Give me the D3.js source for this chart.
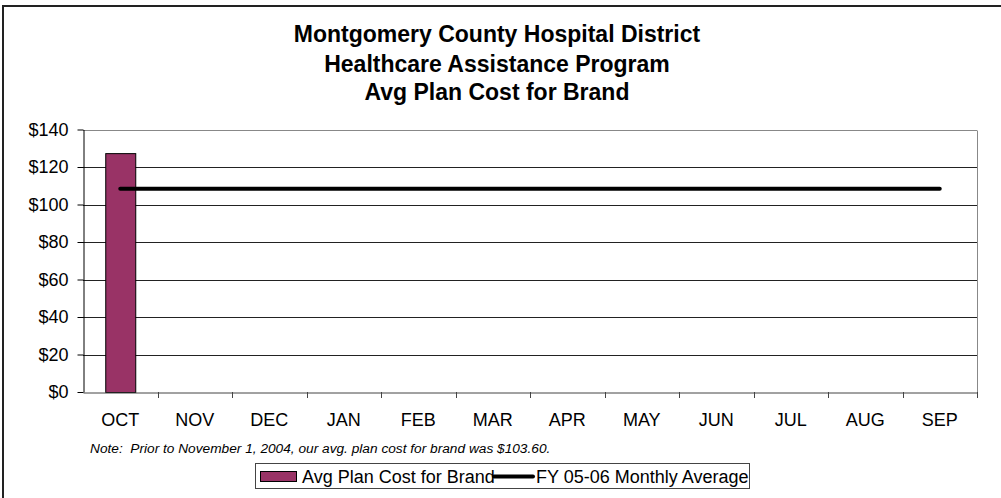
<!DOCTYPE html>
<html>
<head>
<meta charset="utf-8">
<script src="https://cdn.jsdelivr.net/npm/d3@7"></script>
<style>
  html, body { margin: 0; padding: 0; background: #fff; }
  svg { display: block; font-family: "Liberation Sans", Arial, sans-serif; }
</style>
</head>
<body>
<svg id="chart" width="1001" height="498"></svg>
<script>
const titleLines = ["Montgomery County Hospital District", "Healthcare Assistance Program", "Avg Plan Cost for Brand"];
const months = ["OCT","NOV","DEC","JAN","FEB","MAR","APR","MAY","JUN","JUL","AUG","SEP"];
const brandCost = [127.4, null, null, null, null, null, null, null, null, null, null, null];
const monthlyAvg = [108.35,108.35,108.35,108.35,108.35,108.35,108.35,108.35,108.35,108.35,108.35,108.35];
const yTicks = [0, 20, 40, 60, 80, 100, 120, 140];
const seriesNames = ["Avg Plan Cost for Brand", "FY 05-06 Monthly Average"];
const noteText = "Note:  Prior to November 1, 2004, our avg. plan cost for brand was $103.60.";

const svg = d3.select("#chart");
const plot = {left: 83, right: 977, top: 129.5, bottom: 392};
const FONT = "Liberation Sans, Arial, sans-serif";

// outer border (cropped chart area)
svg.append("rect").attr("x", 3).attr("y", 6).attr("width", 1020).attr("height", 520)
  .attr("fill", "none").attr("stroke", "#222").attr("stroke-width", 2);

// title
svg.append("g").selectAll("text").data(titleLines).join("text")
  .attr("x", 497).attr("y", (d, i) => [42, 72, 100][i])
  .attr("text-anchor", "middle").attr("font-weight", "bold").attr("font-size", 23)
  .attr("fill", "#000").text(d => d);

const x = d3.scaleBand().domain(months).range([plot.left, plot.right]).paddingInner(0).paddingOuter(0);
const y = d3.scaleLinear().domain([0, 140]).range([plot.bottom, plot.top]);

// gridlines
svg.append("g").selectAll("line").data(yTicks.filter(d => d > 0)).join("line")
  .attr("x1", plot.left).attr("x2", plot.right)
  .attr("y1", d => Math.round(y(d)) + 0.5).attr("y2", d => Math.round(y(d)) + 0.5)
  .attr("stroke", d => d === 140 ? "#888" : "#222").attr("stroke-width", 1);

// right border of plot area
svg.append("line").attr("x1", plot.right + 0.5).attr("x2", plot.right + 0.5)
  .attr("y1", Math.round(y(140)) + 0.5).attr("y2", plot.bottom).attr("stroke", "#888");

// bars
const bw = 30;
svg.append("g").selectAll("rect").data(months.map((m, i) => ({m, v: brandCost[i]})).filter(d => d.v != null))
  .join("rect")
  .attr("x", d => x(d.m) + x.bandwidth() / 2 - bw / 2 + 0.5)
  .attr("y", d => y(d.v) + 0.5)
  .attr("width", bw).attr("height", d => y(0) - y(d.v))
  .attr("fill", "#993366").attr("stroke", "#000").attr("stroke-width", 1);

// y axis
const yAxis = svg.append("g").attr("transform", `translate(${plot.left + 0.5},0)`)
  .call(d3.axisLeft(y).tickValues(yTicks).tickFormat(d => "$" + d).tickSize(6).tickSizeOuter(0));
yAxis.select(".domain").attr("stroke", "#000");
yAxis.selectAll(".tick line").attr("stroke", "#000");
yAxis.selectAll(".tick text").attr("font-size", 18).attr("font-family", FONT)
  .attr("fill", "#000").attr("x", -15);

// x axis
const xAxis = svg.append("g").attr("transform", `translate(0,${plot.bottom + 0.5})`)
  .call(d3.axisBottom(x).tickSize(0).tickSizeOuter(0));
xAxis.select(".domain").attr("stroke", "#444");
xAxis.selectAll(".tick text").attr("font-size", 18).attr("font-family", FONT)
  .attr("fill", "#000").attr("y", 21);
// category boundary ticks
svg.append("g").selectAll("line").data(months.slice(1).concat(["__end"])).join("line")
  .attr("x1", d => d === "__end" ? plot.right + 0.5 : Math.round(x(d)) + 0.5)
  .attr("x2", d => d === "__end" ? plot.right + 0.5 : Math.round(x(d)) + 0.5)
  .attr("y1", plot.bottom).attr("y2", plot.bottom + 6).attr("stroke", "#444");

// average line
const line = d3.line().x((d, i) => x(months[i]) + x.bandwidth() / 2).y(d => y(d));
svg.append("path").datum(monthlyAvg).attr("d", line)
  .attr("fill", "none").attr("stroke", "#000").attr("stroke-width", 4).attr("stroke-linecap", "round");

// note
svg.append("text").attr("x", 90).attr("y", 453).attr("font-size", 13.7).attr("font-style", "italic")
  .attr("fill", "#000").style("white-space", "pre").text(noteText);

// legend
const lg = svg.append("g");
lg.append("rect").attr("x", 255.5).attr("y", 463.5).attr("width", 494).attr("height", 25)
  .attr("fill", "#fff").attr("stroke", "#444");
lg.append("rect").attr("x", 260.5).attr("y", 471.5).attr("width", 36).attr("height", 10)
  .attr("fill", "#993366").attr("stroke", "#000");
lg.append("text").attr("x", 302).attr("y", 483).attr("font-size", 18).attr("fill", "#000").text(seriesNames[0]);
lg.append("line").attr("x1", 494).attr("x2", 533).attr("y1", 476.5).attr("y2", 476.5)
  .attr("stroke", "#000").attr("stroke-width", 4).attr("stroke-linecap", "round");
lg.append("text").attr("x", 536).attr("y", 483).attr("font-size", 18).attr("fill", "#000").text(seriesNames[1]);
</script>
</body>
</html>
